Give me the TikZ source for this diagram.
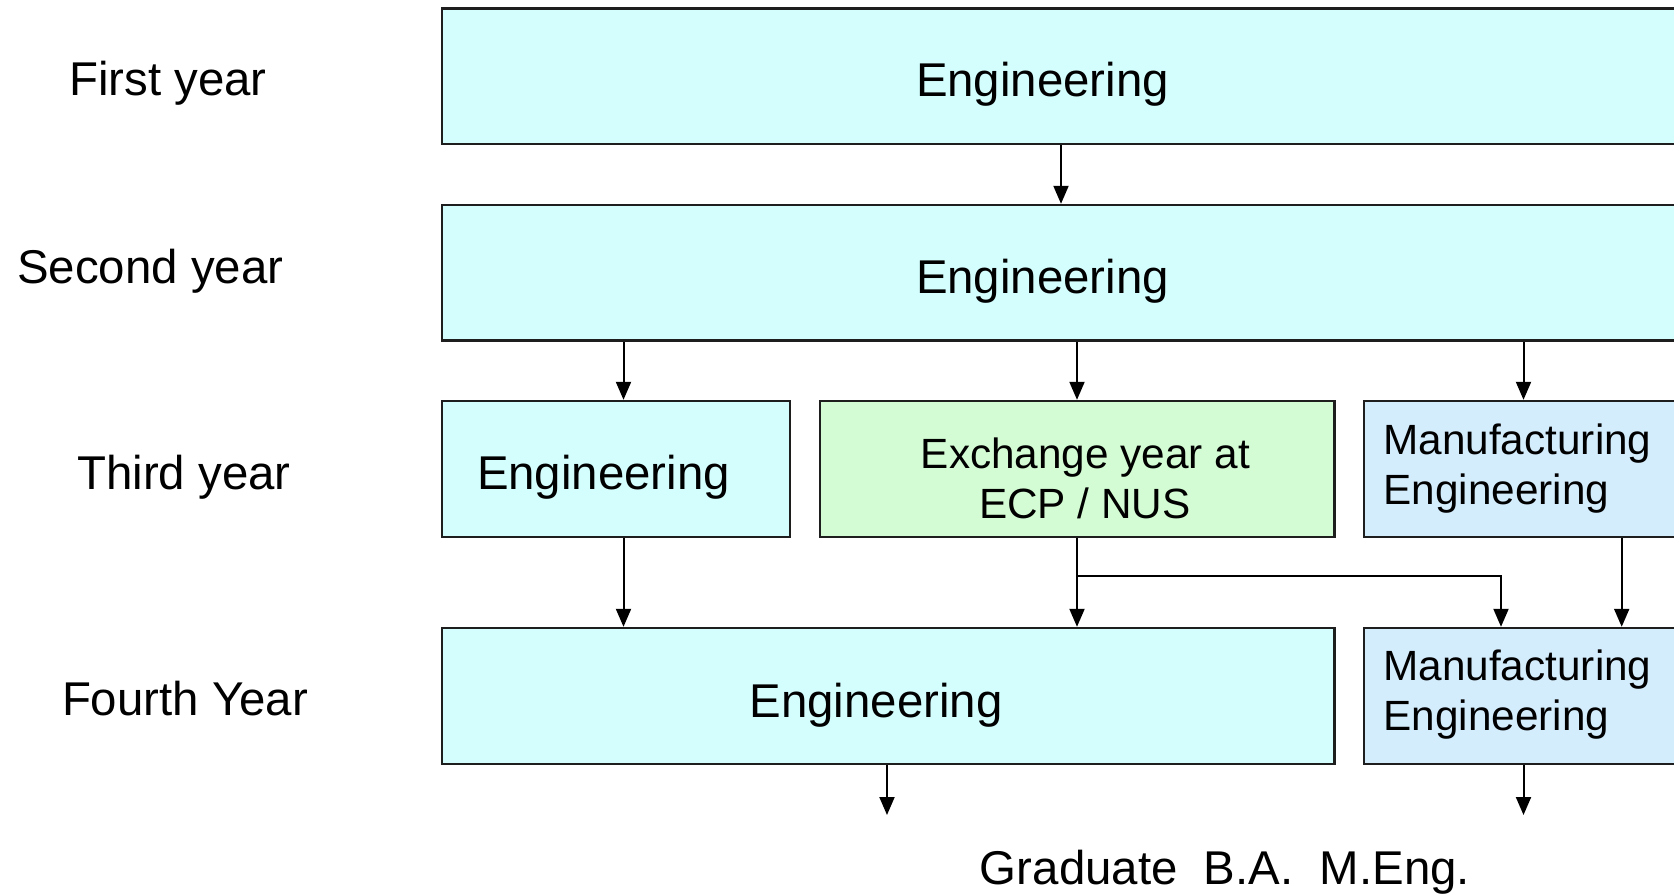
\documentclass[tikz,border=0pt]{standalone}
\usepackage{fontspec}
\setmainfont{Liberation Sans}
\usetikzlibrary{arrows.meta,fit}

\definecolor{engfill}{RGB}{212,253,253}
\definecolor{xchfill}{RGB}{212,252,212}
\definecolor{mfgfill}{RGB}{212,237,252}
\definecolor{edge}{RGB}{30,30,30}

\tikzset{
  box/.style={draw=edge, line width=1.2bp, inner sep=0pt},
  arr/.style={draw=black, line width=1bp, -{Triangle[width=7.5bp,length=9bp]}},
  big/.style={font=\fontsize{23.7bp}{28bp}\selectfont, inner sep=0pt},
  small/.style={font=\fontsize{21.15bp}{25bp}\selectfont, inner sep=0pt},
}

\begin{document}
\begin{tikzpicture}[x=0.5bp, y=-0.5bp]
  \useasboundingbox (0,0) rectangle (1674,893);
  \clip (0,0) rectangle (1674,893);

  % year labels
  \node[big, anchor=base] (y1) at (168,95) {First year};
  \node[big, anchor=base] (y2) at (150.3,283.5) {Second year};
  \node[big, anchor=base] (y3) at (184,489.3) {Third year};
  \node[big, anchor=base] (y4) at (185,715) {Fourth Year};

  % boxes
  \node[box, fill=engfill, fit={(442,8.5) (1720,144)}] (b1) {};
  \node[box, fill=engfill, fit={(442,205) (1720,340.6)}] (b2) {};
  \node[box, fill=engfill, fit={(442,401) (790,537)}] (b3a) {};
  \node[box, fill=xchfill, fit={(820,401) (1334.5,537)}] (b3b) {};
  \node[box, fill=mfgfill, fit={(1364,401) (1720,537)}] (b3c) {};
  \node[box, fill=engfill, fit={(442,628) (1334.5,764)}] (b4a) {};
  \node[box, fill=mfgfill, fit={(1364,628) (1720,764)}] (b4b) {};

  % box texts
  \node[big, anchor=base] (t1) at (1042.5,96) {Engineering};
  \node[big, anchor=base] (t2) at (1042.5,293) {Engineering};
  \node[big, anchor=base] (t3a) at (603.5,489) {Engineering};
  \node[small, anchor=base] (t3b1) at (1085.5,468) {Exchange year at};
  \node[small, anchor=base] (t3b2) at (1085,518) {ECP / NUS};
  \node[small, anchor=base west] (t3c1) at (1383,454) {Manufacturing};
  \node[small, anchor=base west] (t3c2) at (1383,504) {Engineering};
  \node[big, anchor=base] (t4a) at (876,717) {Engineering};
  \node[small, anchor=base west] (t4b1) at (1383,680) {Manufacturing};
  \node[small, anchor=base west] (t4b2) at (1383,730) {Engineering};

  \node[big, anchor=base] (grad) at (1225,884) {Graduate\ \ B.A.\ \ M.Eng.};

  % free ends of the last arrows and the branch corner
  \coordinate (outA) at (887,815);
  \coordinate (outB) at (1523.5,815);
  \coordinate (split) at (1077,575.5);

  % connectors
  \draw[arr] (b1.south -| 1061,0) -- (b2.north -| 1061,0);
  \draw[arr] (b2.south -| 623.5,0) -- (b3a.north -| 623.5,0);
  \draw[arr] (b2.south -| 1077,0) -- (b3b.north -| 1077,0);
  \draw[arr] (b2.south -| 1523.5,0) -- (b3c.north -| 1523.5,0);
  \draw[arr] (b3a.south -| 623.5,0) -- (b4a.north -| 623.5,0);
  \draw[arr] (b3b.south -| 1077,0) -- (b4a.north -| 1077,0);
  \draw[arr] (split) -| (b4b.north -| 1501,0);
  \draw[arr] (b3c.south -| 1621.7,0) -- (b4b.north -| 1621.7,0);
  \draw[arr] (b4a.south -| outA) -- (outA);
  \draw[arr] (b4b.south -| outB) -- (outB);
\end{tikzpicture}
\end{document}
